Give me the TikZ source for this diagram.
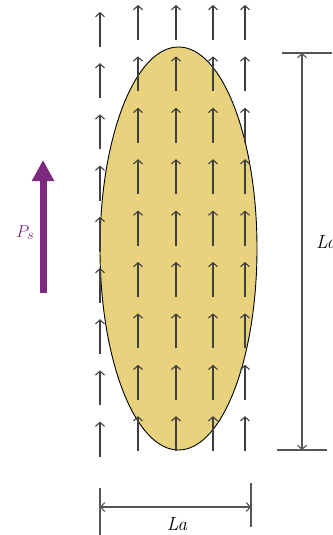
\documentclass[tikz,border=0pt]{standalone}
\usepackage{tikz}
\usetikzlibrary{arrows.meta,shapes.geometric}
\definecolor{GrainFill}{HTML}{E8D27D}
\definecolor{PolPurple}{HTML}{7B2A7E}
\definecolor{FieldGray}{HTML}{3F3F3F}
\definecolor{DimGray}{HTML}{555555}

\begin{document}
\begin{tikzpicture}[
  x=1pt, y=-1pt,
  grain/.style={ellipse,draw=black,line width=0.9pt,fill=GrainFill,inner sep=0pt,
                minimum width=157pt,minimum height=403pt},
  field/.style={->,>={Straight Barb[length=4pt,width=9pt]},line width=1.1pt,FieldGray},
  dim/.style={<->,>={Straight Barb[length=4pt,width=9pt]},line width=1.1pt,DimGray},
  tick/.style={line width=1.1pt,DimGray},
  lbl/.style={font=\fontsize{19}{22}\selectfont\itshape,inner sep=0pt},
  pol/.style={-{Triangle[length=21pt,width=21pt]},line width=7pt,PolPurple},
]
\useasboundingbox (0,0) rectangle (332,535);

% grain
\node[grain] (grain) at (178.5,248.5) {};

% field arrows
\foreach \k in {0,...,8}
  \draw[field] (100,{47+51.2*\k}) -- (100,{12+51.2*\k});
\foreach \x in {138,176,213,245}
  \foreach \k in {0,...,8}
    \draw[field] (\x,{40+51.4*\k}) -- (\x,{5+51.4*\k});

% polarisation
\coordinate (ptail) at (43,293);
\coordinate (phead) at (43,160);
\draw[pol] (ptail) -- (phead);
\node[lbl,anchor=base west,text=PolPurple] (ps) at (16,237) {$P_s$};

% length
\coordinate (ltop) at (302,53);
\coordinate (lbot) at (302,450);
\draw[tick] (282,53) -- (332,53);
\draw[tick] (277,450) -- (327,450);
\draw[dim] (ltop) -- (lbot);
\node[lbl,anchor=base west] (lc) at (316,248) {La};

% width
\coordinate (wl) at (100,507);
\coordinate (wr) at (251,507);
\draw[tick] (100,488) -- (100,535);
\draw[tick] (251,483) -- (251,527);
\draw[dim] (wl) -- (wr);
\node[lbl,anchor=base] (la) at (177,530) {La};
\end{tikzpicture}
\end{document}
